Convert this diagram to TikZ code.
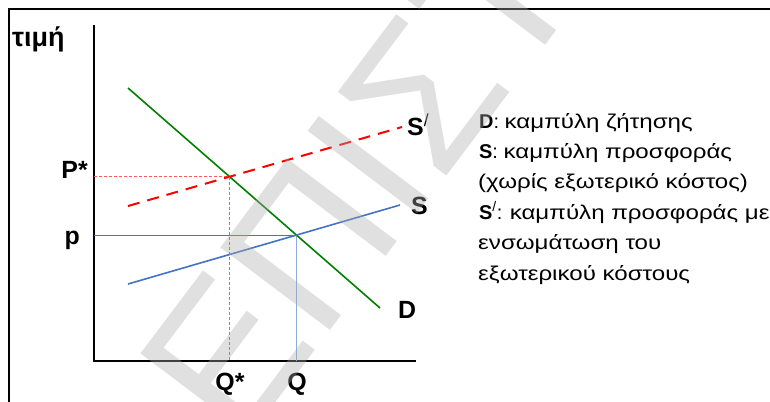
\documentclass[tikz,border=0pt]{standalone}
\usepackage{fontspec}
\setmainfont{Liberation Sans}
\newfontfamily\grk[FakeStretch=1.21]{Liberation Sans}
\usetikzlibrary{intersections}
\definecolor{dgreen}{RGB}{0,128,0}
\definecolor{sblue}{RGB}{68,114,196}
\definecolor{lblue}{RGB}{143,170,220}
\definecolor{pinkred}{RGB}{255,90,90}
\definecolor{wm}{RGB}{171,171,171}
\begin{document}
\begin{tikzpicture}[x=1bp,y=-1bp,
  lab/.style={font=\fontsize{25}{30}\selectfont\bfseries, inner sep=0},
  leg/.style={font=\fontsize{20}{24}\selectfont, inner sep=0, anchor=base west},
  curve/.style={line width=1.6bp},
  guide/.style={pinkred, line width=0.9bp, dash pattern=on 3bp off 2bp},
]
\useasboundingbox (0,0) rectangle (770,401);
\clip (0,0) rectangle (770,401);
\fill[white] (0,0) rectangle (770,401);
\draw[line width=2bp] (9,9) rectangle (790,420);
% axes
\coordinate (O) at (94,361);
\coordinate (Ytop) at (94,25);
\coordinate (Xend) at (416,361);
\draw[line width=2.2bp] (Ytop) -- (O) -- (Xend);
% curve end points
\coordinate (D1) at (128,88); \coordinate (D2) at (380,308);
\coordinate (S1) at (128,284); \coordinate (S2) at (400,205);
\coordinate (T1) at (128,206); \coordinate (T2) at (402,127);
\path[name path=dpath] (D1) -- (D2);
\path[name path=spath] (S1) -- (S2);
\path[name path=tpath] (T1) -- (T2);
\path[name intersections={of=dpath and spath, by=E}];
\path[name intersections={of=dpath and tpath, by=Estar}];
% guide lines
\draw[guide] (O |- Estar) -- (Estar);
\draw[sblue, line width=1bp] (O |- E) -- (E);
\draw[lblue, line width=1.2bp] (E) -- (E |- O);
% curves
\draw[dgreen, curve] (D1) -- (D2);
\draw[sblue, curve] (S1) -- (S2);
\draw[red, line width=2bp, dash pattern=on 12bp off 8bp] (T1) -- (T2);
% labels
\node[lab, font=\fontsize{27}{30}\selectfont\bfseries, anchor=base west] (tl) at (12,46) {τιμή};
\node[lab, anchor=base east] (Ps) at (88,178) {P*};
\node[lab, anchor=base east] (pl) at (80,244) {p};
\node[lab, anchor=base] (Qs) at (230,390) {Q*};
\node[lab, anchor=base] (Ql) at (297,390) {Q};
\node[lab, anchor=base west] (Sp) at (407,135) {S\textsuperscript{\normalfont /}};
\node[lab, anchor=base west] (Sl) at (411,214) {S};
\node[lab, anchor=base west] (Dl) at (398,318) {D};
% legend
\node[leg] (L1) at (479,128) {\textbf{D}: {\grk καμπύλη ζήτησης}};
\node[leg] (L2) at (479,158.4) {\textbf{S}: {\grk καμπύλη προσφοράς}};
\node[leg] (L3) at (478,188.8) {{\grk (χωρίς εξωτερικό κόστος)}};
\node[leg] (L4) at (479,219.2) {\textbf{S}\textsuperscript{/}: {\grk καμπύλη προσφοράς με}};
\node[leg] (L5) at (478,249.6) {{\grk ενσωμάτωση του}};
\node[leg] (L6) at (478,280) {{\grk εξωτερικού κόστους}};
% watermark
\node[font=\fontsize{200}{200}\selectfont, text=wm, opacity=0.37, rotate=53, anchor=base west, inner sep=0] (wmk) at (240,450) {ΕΠΙΣΤΗΜΗ};
% vertical guide above the watermark
\draw[guide] (Estar) -- (Estar |- O);
\end{tikzpicture}
\end{document}
